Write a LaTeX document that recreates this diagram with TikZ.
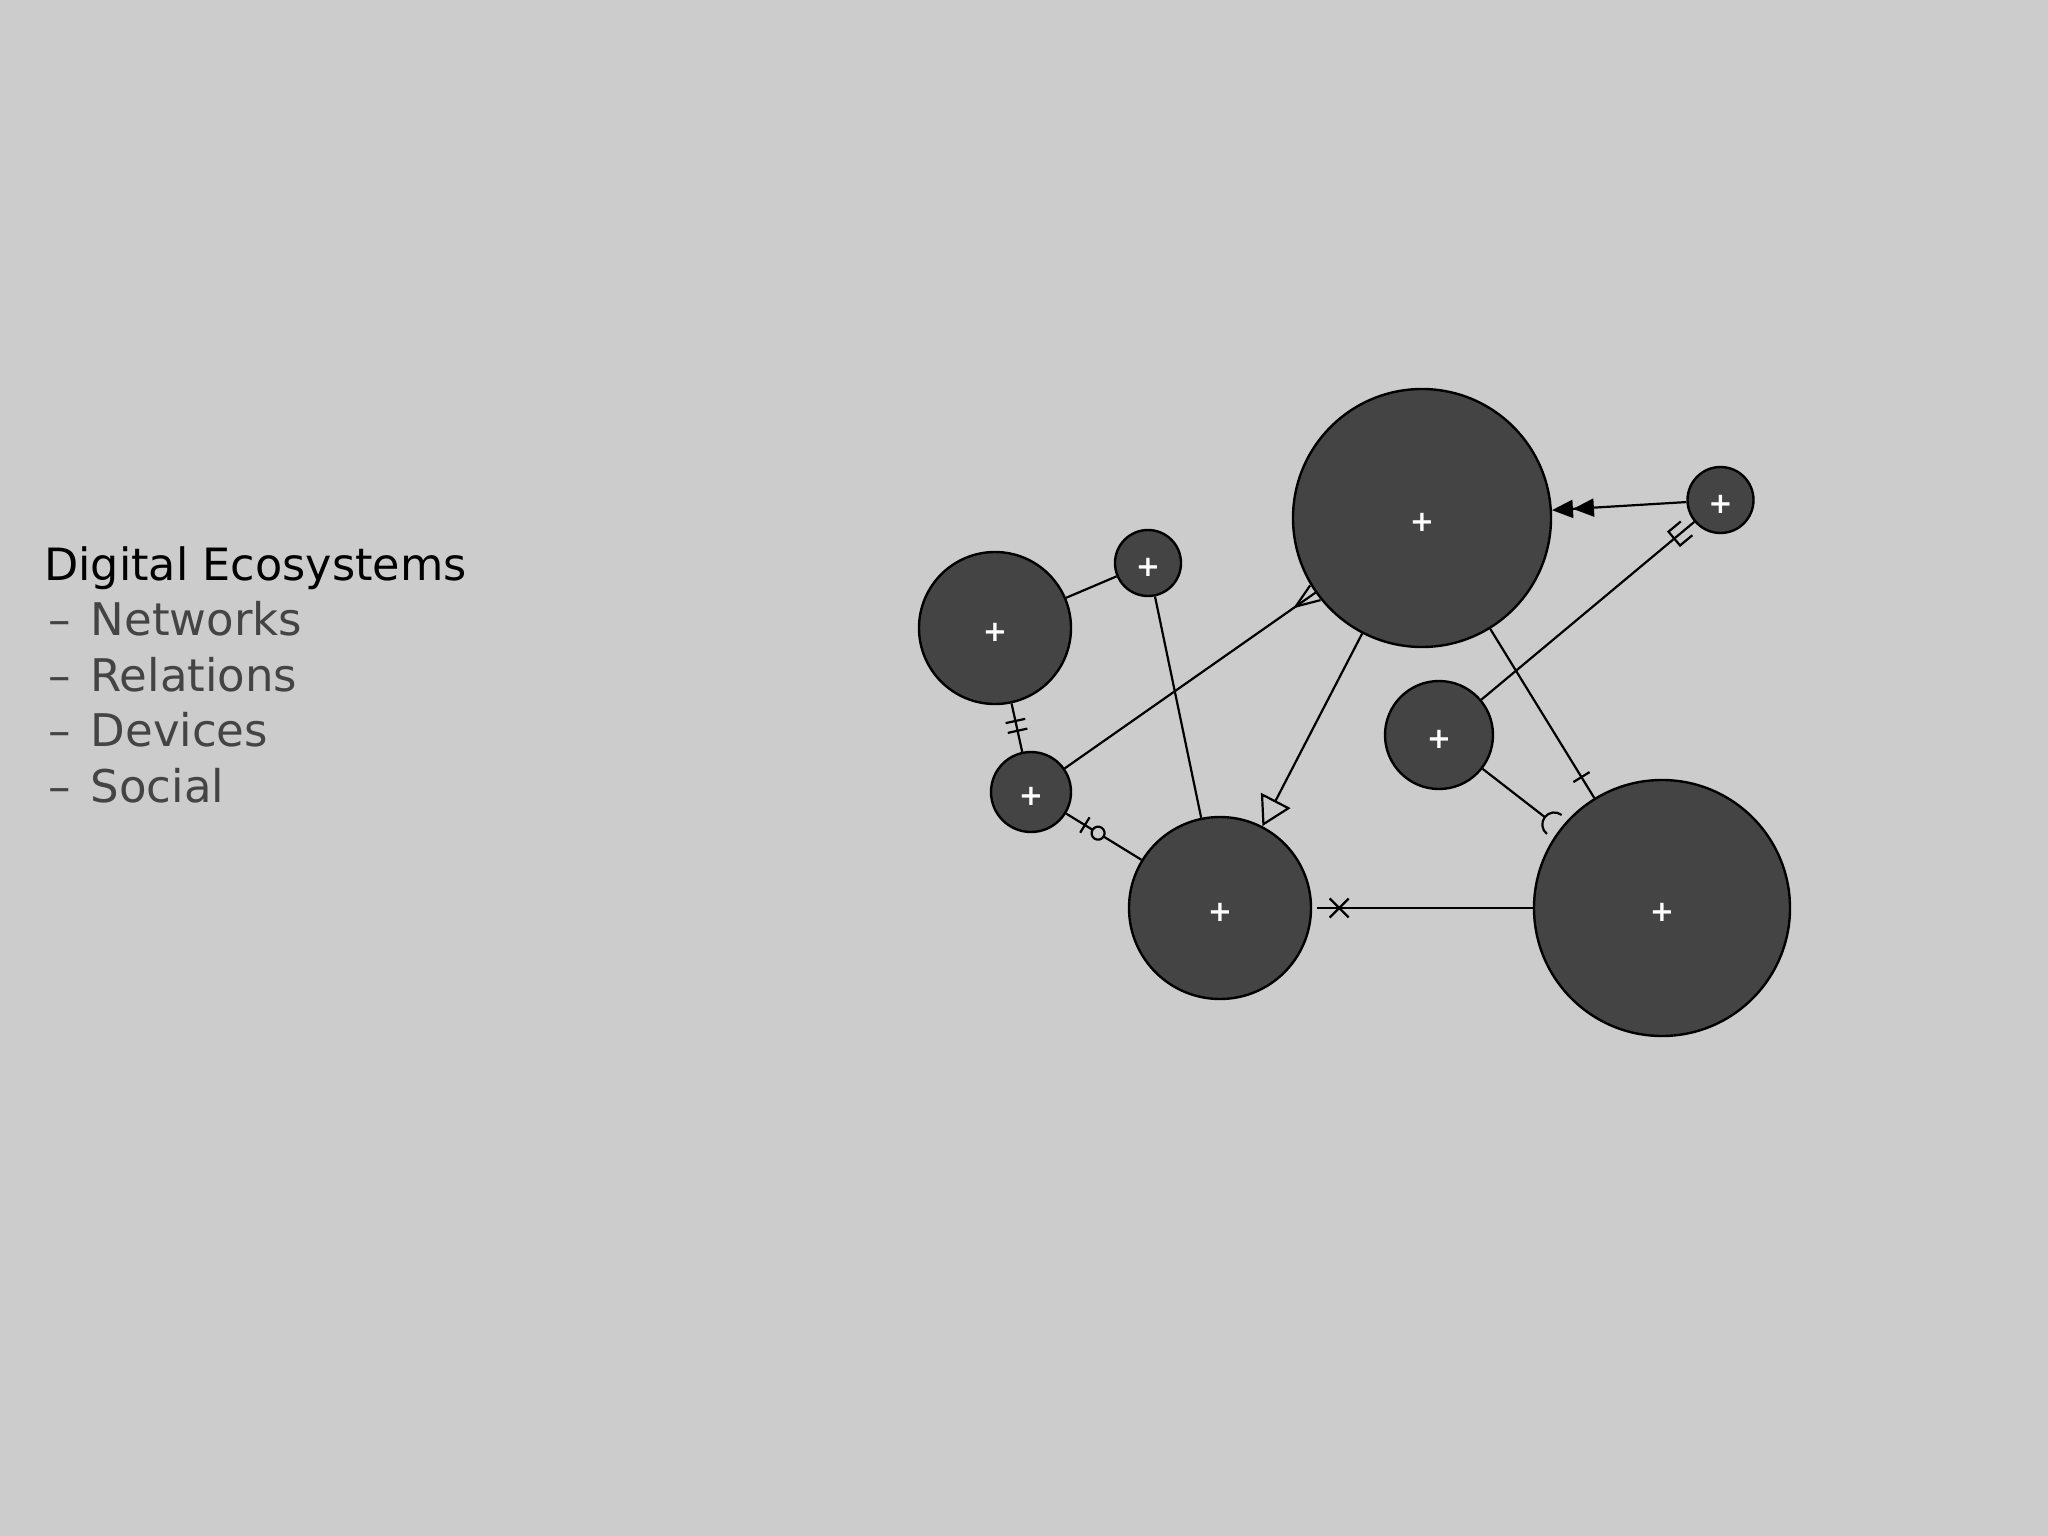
\documentclass[tikz,border=0pt]{standalone}
\usepackage{fontspec}
\setmainfont{DejaVu Sans}
\usetikzlibrary{arrows.meta,decorations.markings}
\definecolor{bg}{HTML}{CCCCCC}
\definecolor{disccol}{HTML}{444444}
\definecolor{itemgray}{HTML}{444444}
\pgfdeclarelayer{back}
\pgfdeclarelayer{links}
\pgfsetlayers{back,links,main}
\tikzset{
  disc/.style={circle, draw=black, line width=2.4pt, fill=disccol, inner sep=0pt, minimum size=#1,
    label={[plussign]center:+}},
  plussign/.style={text=white, inner sep=0pt, font=\fontsize{29}{29}\selectfont\bfseries, yshift=-4pt},
  conn/.style={draw=black, line width=2.2pt},
  mk/.style={line width=2.2pt},
  titletext/.style={anchor=base west, inner sep=0pt, text=black, font=\fontsize{44.5}{53}\selectfont},
  itemtext/.style={anchor=base west, inner sep=0pt, text=itemgray, font=\fontsize{45}{53}\selectfont},
}
\begin{document}
\begin{tikzpicture}[x=1pt,y=-1pt]
\begin{pgfonlayer}{back}
  \fill[bg] (0,0) rectangle (2048,1536);
\end{pgfonlayer}
\useasboundingbox (0,0) rectangle (2048,1536);

% text
\node[titletext] (t0) at (44,580) {Digital Ecosystems};
\node[itemtext] (t1) at (48,635.5) {–\hspace{20pt}Networks};
\node[itemtext] (t2) at (48,691) {–\hspace{20pt}Relations};
\node[itemtext] (t3) at (48,746.5) {–\hspace{20pt}Devices};
\node[itemtext] (t4) at (48,802) {–\hspace{20pt}Social};

% discs
\node[disc=258pt] (A) at (1422,518) {};
\node[disc=66pt]  (B) at (1720.5,500) {};
\node[disc=108pt] (C) at (1439,735) {};
\node[disc=256pt] (D) at (1662,908) {};
\node[disc=182pt] (E) at (1220,908) {};
\node[disc=152pt] (F) at (995,628) {};
\node[disc=66pt]  (G) at (1148,563) {};
\node[disc=80pt]  (H) at (1031,792) {};

\begin{pgfonlayer}{links}
  % plain links
  \draw[conn] (F) -- (G);
  \draw[conn] (G) -- (E);
  % F -- H : two bars
  \draw[conn, postaction={decorate, decoration={markings,
      mark=at position 18pt with {\draw[mk] (0pt,-10pt) -- (0pt,10pt);},
      mark=at position 28pt with {\draw[mk] (0pt,-10pt) -- (0pt,10pt);}}}] (F) -- (H);
  % H -- E : bar and circle
  \draw[conn, postaction={decorate, decoration={markings,
      mark=at position 22pt with {\draw[mk] (0pt,-9pt) -- (0pt,9pt);},
      mark=at position 37.5pt with {\draw[mk, fill=bg] (0pt,0pt) circle[radius=6.5pt];}}}] (H) -- (E);
  % H -- A : crow's foot at A
  \draw[conn, postaction={decorate, decoration={markings,
      mark=at position 0.9999 with {\draw[mk] (-24pt,0pt) -- (0pt,9pt) (-24pt,0pt) -- (0pt,-9pt);}}}] (H) -- (A);
  % A -- E : open triangle
  \draw[conn, -{Triangle[open, length=29pt, width=33pt]}] (A) -- (E);
  % A -- D : single bar near D
  \draw[conn, postaction={decorate, decoration={markings,
      mark=at position -24.5pt with {\draw[mk] (0pt,-9.5pt) -- (0pt,9.5pt);}}}] (A) -- (D);
  % C -- B : trident near B
  \draw[conn, postaction={decorate, decoration={markings,
      mark=at position -26pt with {\draw[mk] (16pt,-9pt) -- (0pt,-9pt) -- (0pt,9pt) -- (16pt,9pt);}}}] (C) -- (B);
  % B -- A : double filled triangle
  \draw[conn, -{Triangle[length=21pt,width=18pt]Triangle[length=21pt,width=18pt]}] (B) -- (A);
  % C -- D : socket
  \draw[conn, shorten >=19pt] (C) -- (D);
  \path[postaction={decorate, decoration={markings,
      mark=at position -7pt with {\draw[mk] (0pt,12pt) arc[start angle=90, end angle=270, radius=12pt];}}}] (C) -- (D);
  % E -- D : cross near E
  \draw[conn, shorten <=5pt] (E) -- (D);
  \path[postaction={decorate, decoration={markings,
      mark=at position 27pt with {\draw[mk] (-9.5pt,-9.5pt) -- (9.5pt,9.5pt) (-9.5pt,9.5pt) -- (9.5pt,-9.5pt);}}}] (E) -- (D);
\end{pgfonlayer}
\end{tikzpicture}
\end{document}
